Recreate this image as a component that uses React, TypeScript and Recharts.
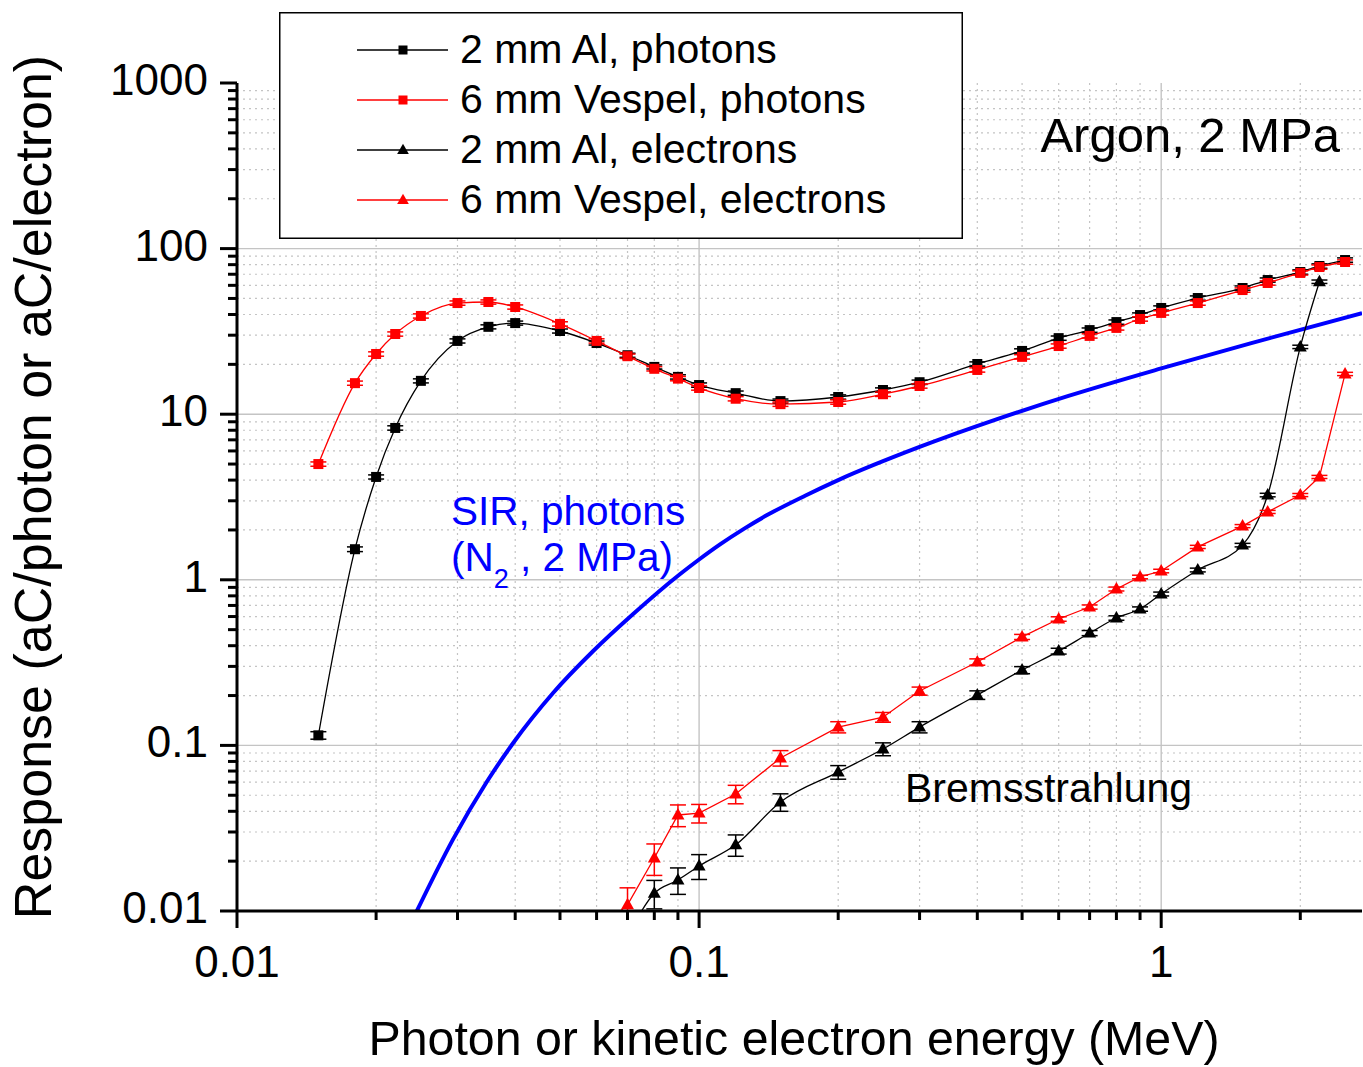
import React from 'react';
import { ComposedChart, Line, XAxis, YAxis, CartesianGrid, ErrorBar, Legend } from 'recharts';

const FONT = '"Liberation Sans", Arial, Helvetica, sans-serif';

// Photon energies (MeV) and responses (aC/photon)
const photonEnergy = [0.015, 0.018, 0.02, 0.022, 0.025, 0.03, 0.035, 0.04, 0.05, 0.06, 0.07, 0.08, 0.09, 0.1, 0.12, 0.15, 0.2, 0.25, 0.3, 0.4, 0.5, 0.6, 0.7, 0.8, 0.9, 1.0, 1.2, 1.5, 1.7, 2.0, 2.2, 2.5];
const alPhoton = [0.115, 1.53, 4.18, 8.26, 15.9, 27.7, 33.7, 35.5, 31.8, 26.9, 22.7, 19.3, 16.8, 15.0, 13.4, 12.0, 12.7, 14.0, 15.6, 20.1, 24.1, 28.8, 32.2, 36.0, 39.7, 43.8, 50.3, 57.8, 64.6, 72.2, 78.5, 85.3];
const alPhotonErr = [0.006, 0.05, 0.12, 0.25, 0.45, 0.8, 0.95, 1.0, 0.9, 0.75, 0.65, 0.55, 0.5, 0.45, 0.4, 0.35, 0.38, 0.42, 0.47, 0.6, 0.72, 0.86, 0.97, 1.08, 1.2, 1.3, 1.5, 1.7, 1.9, 2.2, 2.4, 2.6];
const vespelPhoton = [5.0, 15.4, 23.1, 30.5, 39.2, 46.9, 47.6, 44.4, 35.1, 27.7, 22.4, 18.8, 16.4, 14.4, 12.4, 11.5, 11.85, 13.2, 14.8, 18.5, 22.2, 25.8, 29.7, 33.2, 37.6, 40.9, 46.9, 56.2, 62.0, 71.3, 77.4, 83.0];
const vespelPhotonErr = [0.15, 0.45, 0.7, 0.9, 1.15, 1.4, 1.4, 1.3, 1.05, 0.83, 0.67, 0.56, 0.49, 0.43, 0.37, 0.35, 0.36, 0.4, 0.44, 0.55, 0.67, 0.77, 0.89, 1.0, 1.13, 1.23, 1.4, 1.7, 1.86, 2.1, 2.3, 2.5];

// Kinetic electron energies (MeV) and responses (aC/electron)
const electronEnergy = [0.06, 0.07, 0.08, 0.09, 0.1, 0.12, 0.15, 0.2, 0.25, 0.3, 0.4, 0.5, 0.6, 0.7, 0.8, 0.9, 1.0, 1.2, 1.5, 1.7, 2.0, 2.2, 2.5];
const alElectron = [null, 0.0071, 0.0128, 0.0154, 0.0187, 0.0251, 0.0455, 0.069, 0.0951, 0.129, 0.2015, 0.285, 0.371, 0.477, 0.588, 0.666, 0.821, 1.146, 1.62, 3.25, 25.5, 63.1, null];
const alElectronErr = [null, 0.002, 0.0025, 0.0028, 0.0032, 0.0037, 0.0055, 0.0065, 0.0085, 0.01, 0.012, 0.014, 0.015, 0.017, 0.018, 0.02, 0.022, 0.03, 0.04, 0.08, 0.6, 1.5, null];
const vespelElectron = [0.0075, 0.0109, 0.0209, 0.038, 0.039, 0.0509, 0.084, 0.129, 0.148, 0.213, 0.319, 0.452, 0.58, 0.685, 0.88, 1.04, 1.13, 1.58, 2.11, 2.57, 3.25, 4.18, 17.5];
const vespelElectronErr = [0.002, 0.0029, 0.0045, 0.0057, 0.005, 0.0065, 0.009, 0.01, 0.01, 0.012, 0.014, 0.016, 0.018, 0.02, 0.024, 0.026, 0.028, 0.035, 0.045, 0.055, 0.07, 0.09, 0.4];

// Spectral ionisation response curve, photons in N2 at 2 MPa
const sirEnergy = [0.0245, 0.0293, 0.0347, 0.0396, 0.0483, 0.059, 0.072, 0.091, 0.1, 0.111, 0.125, 0.14, 0.17, 0.2, 0.3, 0.44, 0.63, 1.0, 1.56, 2.72];
const sirResponse = [0.01, 0.0269, 0.0601, 0.1034, 0.2072, 0.3715, 0.6216, 1.084, 1.326, 1.636, 2.03, 2.45, 3.23, 4.0, 6.34, 9.3, 12.9, 18.9, 26.8, 40.8];

// Axis ticks
const xMajorTicks = [0.01, 0.1, 1];
const xMinorTicks = [0.02, 0.03, 0.04, 0.05, 0.06, 0.07, 0.08, 0.09, 0.2, 0.3, 0.4, 0.5, 0.6, 0.7, 0.8, 0.9, 2];
const yMajorTicks = [0.01, 0.1, 1, 10, 100, 1000];
const yMinorTicks = [
  0.02, 0.03, 0.04, 0.05, 0.06, 0.07, 0.08, 0.09,
  0.2, 0.3, 0.4, 0.5, 0.6, 0.7, 0.8, 0.9,
  2, 3, 4, 5, 6, 7, 8, 9,
  20, 30, 40, 50, 60, 70, 80, 90,
  200, 300, 400, 500, 600, 700, 800, 900,
];
const xDomain: [number, number] = [0.01, 2.72];
const yDomain: [number, number] = [0.01, 1000];

// Plot frame in page pixels
const PLOT = { left: 237, top: 83, right: 1362, bottom: 911 };

type Pt = { x: number; y: number; e: number };
const toPoints = (xs: number[], ys: (number | null)[], es: (number | null)[]): Pt[] =>
  xs.flatMap((x, i) => (ys[i] == null ? [] : [{ x, y: ys[i] as number, e: (es[i] ?? 0) as number }]));

const sirData = sirEnergy.map((x, i) => ({ x, y: sirResponse[i] }));

type MarkerKind = 'square' | 'triangle';
const series: { name: string; color: string; marker: MarkerKind; curve: 'monotone' | 'linear'; data: Pt[] }[] = [
  { name: '2 mm Al, photons', color: '#000000', marker: 'square', curve: 'monotone', data: toPoints(photonEnergy, alPhoton, alPhotonErr) },
  { name: '6 mm Vespel, photons', color: '#ff0000', marker: 'square', curve: 'monotone', data: toPoints(photonEnergy, vespelPhoton, vespelPhotonErr) },
  { name: '2 mm Al, electrons', color: '#000000', marker: 'triangle', curve: 'monotone', data: toPoints(electronEnergy, alElectron, alElectronErr) },
  { name: '6 mm Vespel, electrons', color: '#ff0000', marker: 'triangle', curve: 'linear', data: toPoints(electronEnergy, vespelElectron, vespelElectronErr) },
];

const Marker = ({ kind, cx, cy, color, s = 1 }: { kind: MarkerKind; cx: number; cy: number; color: string; s?: number }) =>
  kind === 'square' ? (
    <rect x={cx - 5 * s} y={cy - 5 * s} width={10 * s} height={10 * s} fill={color} />
  ) : (
    <polygon
      points={`${cx},${cy - 7 * s} ${cx - 6.5 * s},${cy + 4.5 * s} ${cx + 6.5 * s},${cy + 4.5 * s}`}
      fill={color}
    />
  );

const makeDot = (kind: MarkerKind, color: string) => (p: any) => {
  const { cx, cy, index, payload } = p;
  if (cx == null || cy == null || !payload || payload.y < yDomain[0]) return <g key={`dot-${index}`} />;
  return (
    <g key={`dot-${index}`}>
      <Marker kind={kind} cx={cx} cy={cy} color={color} />
    </g>
  );
};

const isMajor = (v: number) => Math.abs(Math.log10(v) - Math.round(Math.log10(v))) < 1e-6;
const fmt = (v: number) => (v >= 1 ? String(Math.round(v)) : String(v));
const TICK_W = 3;
const MAJOR = 17;
const MINOR = 9;

const BottomTick = (p: any) => {
  const { x, y, payload } = p;
  const major = isMajor(payload.value);
  return (
    <g>
      <line x1={x} x2={x} y1={y} y2={y + (major ? MAJOR : MINOR)} stroke="#000" strokeWidth={TICK_W} />
      {major && (
        <text x={x} y={y + 66} textAnchor="middle" fontSize={44} fontFamily={FONT} fill="#000">
          {fmt(payload.value)}
        </text>
      )}
    </g>
  );
};

const TopTick = (p: any) => {
  const { x, y, payload } = p;
  const major = isMajor(payload.value);
  return <line x1={x} x2={x} y1={y} y2={y + (major ? MAJOR : MINOR)} stroke="#000" strokeWidth={TICK_W} />;
};

const LeftTick = (p: any) => {
  const { x, y, payload } = p;
  const major = isMajor(payload.value);
  return (
    <g>
      <line x1={x} x2={x - (major ? MAJOR : MINOR)} y1={y} y2={y} stroke="#000" strokeWidth={TICK_W} />
      {major && (
        <text x={x - 29} y={y + 12} textAnchor="end" fontSize={44} fontFamily={FONT} fill="#000">
          {fmt(payload.value)}
        </text>
      )}
    </g>
  );
};

const RightTick = (p: any) => {
  const { x, y, payload } = p;
  const major = isMajor(payload.value);
  return <line x1={x} x2={x - (major ? MAJOR : MINOR)} y1={y} y2={y} stroke="#000" strokeWidth={TICK_W} />;
};

const LegendBox = () => (
  <svg width={684} height={227} style={{ display: 'block' }}>
    <rect x={0.75} y={0.75} width={682.5} height={225.5} fill="#fff" stroke="#000" strokeWidth={1.5} />
    {series.map((s, i) => {
      const cy = 38 + i * 50;
      return (
        <g key={s.name}>
          <line x1={78} x2={169} y1={cy} y2={cy} stroke={s.color} strokeWidth={1.3} />
          <Marker kind={s.marker} cx={124} cy={cy} color={s.color} s={0.9} />
          <text x={181} y={cy + 13} fontSize={41} fontFamily={FONT} fill="#000">
            {s.name}
          </text>
        </g>
      );
    })}
  </svg>
);

const xTicks = [...xMajorTicks, ...xMinorTicks].sort((a, b) => a - b);
const yTicks = [...yMajorTicks, ...yMinorTicks].sort((a, b) => a - b);
const axisLine = { stroke: '#000', strokeWidth: 3 };

export default function App() {
  return (
    <div style={{ position: 'absolute', left: 0, top: 0, width: 1363, height: 1067, background: '#fff' }}>
      <ComposedChart width={1363} height={1067} margin={{ top: 83, right: 1, bottom: 0, left: 0 }}>
        <CartesianGrid
          horizontalValues={yMinorTicks}
          verticalValues={xMinorTicks}
          stroke="#c4c4c4"
          strokeWidth={1.2}
          strokeDasharray="2 4"
        />
        <CartesianGrid
          horizontalValues={[0.1, 1, 10, 100]}
          verticalValues={[0.1, 1]}
          stroke="#c4c4c4"
          strokeWidth={1.4}
        />
        <XAxis
          dataKey="x"
          type="number"
          scale="log"
          domain={xDomain}
          allowDataOverflow
          ticks={xTicks}
          interval={0}
          tickSize={0}
          tickMargin={0}
          tickLine={false}
          tick={<BottomTick />}
          axisLine={axisLine}
          height={156}
        />
        <XAxis
          xAxisId="top"
          orientation="top"
          dataKey="x"
          type="number"
          scale="log"
          domain={xDomain}
          allowDataOverflow
          ticks={xTicks}
          interval={0}
          tickSize={0}
          tickMargin={0}
          tickLine={false}
          tick={<TopTick />}
          axisLine={axisLine}
          height={0}
        />
        <YAxis
          type="number"
          scale="log"
          domain={yDomain}
          allowDataOverflow
          ticks={yTicks}
          interval={0}
          tickSize={0}
          tickMargin={0}
          tickLine={false}
          tick={<LeftTick />}
          axisLine={axisLine}
          width={237}
        />
        <YAxis
          yAxisId="right"
          orientation="right"
          type="number"
          scale="log"
          domain={yDomain}
          allowDataOverflow
          ticks={yTicks}
          interval={0}
          tickSize={0}
          tickMargin={0}
          tickLine={false}
          tick={<RightTick />}
          axisLine={axisLine}
          width={0}
        />
        <Line
          data={sirData}
          dataKey="y"
          type="monotone"
          stroke="#0000ff"
          strokeWidth={4}
          dot={false}
          activeDot={false}
          legendType="none"
          isAnimationActive={false}
        />
        {series.map((s) => (
          <Line
            key={s.name}
            name={s.name}
            data={s.data}
            dataKey="y"
            type={s.curve}
            stroke={s.color}
            strokeWidth={1.3}
            dot={makeDot(s.marker, s.color)}
            activeDot={false}
            isAnimationActive={false}
          >
            <ErrorBar
              dataKey="e"
              direction="y"
              width={8}
              stroke={s.color}
              strokeWidth={1.5}
              clipPath="url(#plot-frame-clip)"
              isAnimationActive={false}
            />
          </Line>
        ))}
        <Legend
          layout="vertical"
          align="center"
          verticalAlign="middle"
          content={() => <LegendBox />}
          wrapperStyle={{ left: 279, top: 12, width: 684, height: 227 }}
        />
      </ComposedChart>
      <svg
        width={1363}
        height={1067}
        style={{ position: 'absolute', left: 0, top: 0, pointerEvents: 'none' }}
        fontFamily={FONT}
      >
        <defs>
          <clipPath id="plot-frame-clip" clipPathUnits="userSpaceOnUse">
            <rect x={PLOT.left} y={PLOT.top} width={PLOT.right - PLOT.left} height={PLOT.bottom - PLOT.top} />
          </clipPath>
        </defs>
        <text x={1340} y={152} textAnchor="end" fontSize={49} fill="#000">
          Argon, 2 MPa
        </text>
        <text x={451} y={525} fontSize={40.5} fill="#0000ff">
          SIR, photons
        </text>
        <text x={451} y={571} fontSize={40.5} fill="#0000ff">
          (N
          <tspan fontSize={27} dy={17}>
            2
          </tspan>
          <tspan dy={-17}> , 2 MPa)</tspan>
        </text>
        <text x={905} y={802} fontSize={41} fill="#000">
          Bremsstrahlung
        </text>
        <text x={794} y={1055} textAnchor="middle" fontSize={48.3} fill="#000">
          Photon or kinetic electron energy (MeV)
        </text>
        <text transform="translate(51, 487) rotate(-90)" x={0} y={0} textAnchor="middle" fontSize={52} fill="#000">
          Response (aC/photon or aC/electron)
        </text>
      </svg>
    </div>
  );
}
